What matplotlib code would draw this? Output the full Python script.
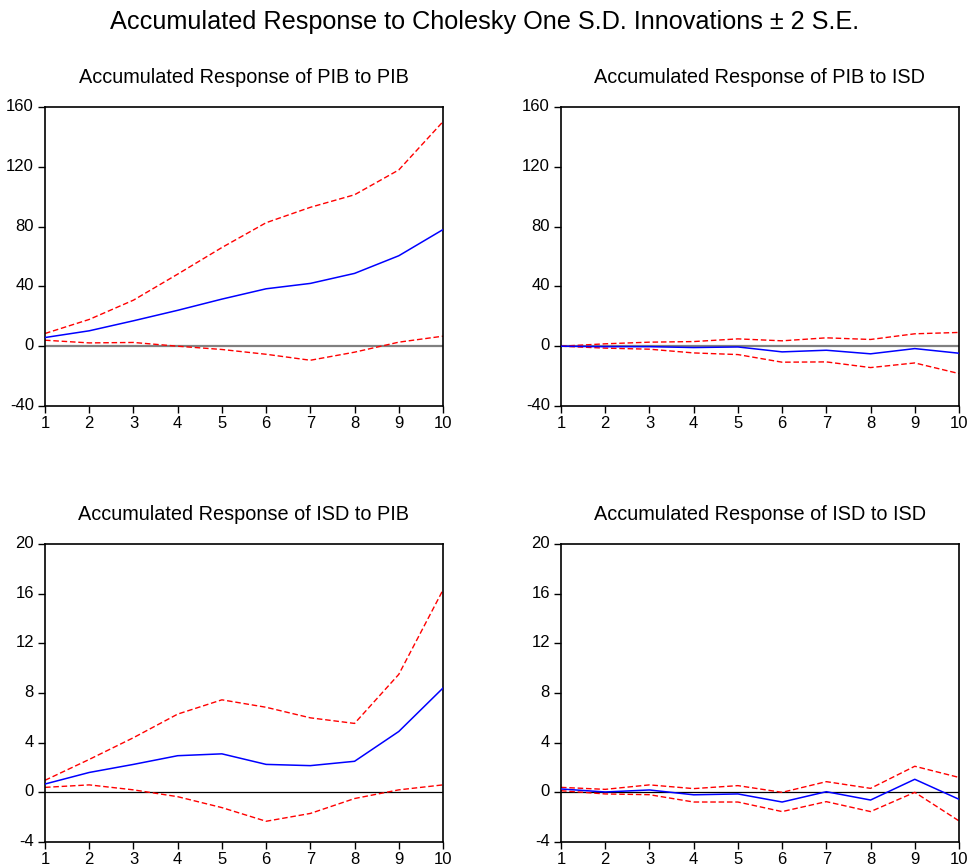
import matplotlib
matplotlib.use("Agg")
from matplotlib import pyplot as plt
from matplotlib.transforms import ScaledTranslation

plt.rcParams['font.family'] = ['Liberation Sans', 'DejaVu Sans']
plt.rcParams['axes.unicode_minus'] = False

periods = [1, 2, 3, 4, 5, 6, 7, 8, 9, 10]

# PIB to PIB
pib_pib = [5.8, 10.3, 17.0, 24.0, 31.5, 38.4, 42.0, 48.7, 60.5, 78.0]
pib_pib_up = [8.5, 17.9, 30.8, 48.2, 66.0, 82.6, 92.9, 101.3, 117.9, 150.2]
pib_pib_lo = [4.0, 2.2, 2.5, 0.0, -2.2, -5.4, -9.4, -4.0, 2.7, 6.7]

# PIB to ISD
pib_isd = [0.0, -0.3, -0.3, -0.9, -0.5, -3.8, -2.7, -5.1, -1.6, -4.7]
pib_isd_up = [0.0, 1.6, 2.7, 3.1, 4.9, 3.6, 5.6, 4.5, 8.3, 9.2]
pib_isd_lo = [0.0, -1.3, -2.0, -4.5, -5.6, -10.7, -10.5, -14.3, -11.2, -18.3]

# ISD to PIB
isd_pib = [0.67, 1.6, 2.25, 2.95, 3.1, 2.25, 2.15, 2.5, 4.9, 8.4]
isd_pib_up = [0.97, 2.65, 4.4, 6.3, 7.45, 6.85, 6.0, 5.55, 9.5, 16.3]
isd_pib_lo = [0.4, 0.6, 0.2, -0.35, -1.23, -2.33, -1.7, -0.5, 0.2, 0.6]

# ISD to ISD
isd_isd = [0.27, 0.03, 0.19, -0.2, -0.13, -0.78, 0.05, -0.62, 1.05, -0.56]
isd_isd_up = [0.4, 0.24, 0.6, 0.3, 0.54, 0.0, 0.86, 0.32, 2.1, 1.2]
isd_isd_lo = [0.13, -0.13, -0.19, -0.78, -0.78, -1.55, -0.75, -1.55, 0.0, -2.3]

titles = ["Accumulated Response of PIB to PIB", "Accumulated Response of PIB to ISD",
          "Accumulated Response of ISD to PIB", "Accumulated Response of ISD to ISD"]

panels = [
    (pib_pib, pib_pib_up, pib_pib_lo),
    (pib_isd, pib_isd_up, pib_isd_lo),
    (isd_pib, isd_pib_up, isd_pib_lo),
    (isd_isd, isd_isd_up, isd_isd_lo),
]

W, H = 970, 865
fig = plt.figure(figsize=(W / 100, H / 100), dpi=100)

# axes boxes in pixels: left, top, right, bottom
boxes = [(45, 107, 443, 406), (561, 107, 959, 406),
         (45, 544, 443, 842), (561, 544, 959, 842)]

for i, (box, (mid, up, lo)) in enumerate(zip(boxes, panels)):
    l, t, r, b = box
    ax = fig.add_axes([l / W, 1 - b / H, (r - l) / W, (b - t) / H])
    if i < 2:
        ax.axhline(0, color='#808080', lw=1.6, zorder=1)
        ax.set_ylim(-40, 160)
        ax.set_yticks([-40, 0, 40, 80, 120, 160])
    else:
        ax.axhline(0, color='black', lw=0.9, zorder=1)
        ax.set_ylim(-4, 20)
        ax.set_yticks([-4, 0, 4, 8, 12, 16, 20])
    ax.plot(periods, mid, color='blue', lw=1.1, zorder=3)
    ax.plot(periods, up, color='red', lw=1.0, ls=(0, (4, 2)), zorder=2)
    ax.plot(periods, lo, color='red', lw=1.0, ls=(0, (4, 2)), zorder=2)
    ax.set_xlim(1, 10)
    ax.set_xticks(periods)
    ax.tick_params(direction='out', length=5, width=1, labelsize=12, right=False, top=False)
    ax.tick_params(axis='y', pad=3)
    ax.tick_params(axis='x', pad=2)
    # EViews puts the y labels sitting on the tick
    for lab in ax.get_yticklabels():
        lab.set_va('baseline')
        lab.set_transform(lab.get_transform() + ScaledTranslation(0, -4 / 100, fig.dpi_scale_trans))
    for s in ax.spines.values():
        s.set_linewidth(1.2)
    ax.set_title(titles[i], fontsize=14.3, pad=17)

fig.text(0.5, 1 - 22 / H, "Accumulated Response to Cholesky One S.D. Innovations \u00b1 2 S.E.",
         ha='center', va='center', fontsize=18.2)

fig.savefig("out.png", dpi=100)
